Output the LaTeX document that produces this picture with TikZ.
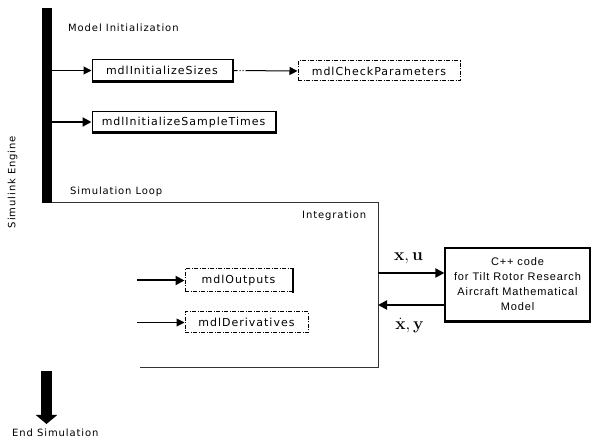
\documentclass[tikz,border=0pt]{standalone}
\usepackage[no-math]{fontspec}
\setmainfont{DejaVu Sans}[LetterSpace=9]
\newfontfamily\boxfont{DejaVu Sans}[LetterSpace=9]
\newfontfamily\cppfont{Liberation Sans}[LetterSpace=8]
\usetikzlibrary{arrows.meta}
\begin{document}
\begin{tikzpicture}[x=1pt,y=-1pt,
  fnbox/.style={draw, line width=1pt, inner sep=0pt, font=\boxfont\fontsize{11}{13}\selectfont},
  ddash/.style={dash pattern=on 4pt off 1.5pt on 1pt off 1.5pt},
  lbl/.style={inner sep=0pt, anchor=west, font=\fontsize{10}{12}\selectfont},
  thinarrow/.style={line width=1pt, -{Triangle[length=8pt,width=8pt]}},
  thickarrow/.style={line width=2pt, -{Triangle[length=9pt,width=9pt]}},
  loopline/.style={line width=1pt, draw=black!80},
  shadow/.style={line width=1.5pt},
  mathlbl/.style={inner sep=0pt, font=\fontsize{16}{16}\selectfont}]
\useasboundingbox (0,0) rectangle (592,443);

% engine bar
\node[fill=black, minimum width=10pt, minimum height=195pt, inner sep=0pt] (engine) at (47,105.5) {};
\node[inner sep=0pt, rotate=90, font=\fontsize{10}{12}\selectfont] (simeng) at (12.5,182) {Simulink Engine};

% model initialization
\node[lbl] (minit) at (68,27.5) {Model Initialization};
\node[fnbox, minimum width=140pt, minimum height=21pt] (sizes) at (162,70.5) {mdlInitializeSizes};
\node[fnbox, ddash, minimum width=162pt, minimum height=20pt] (check) at (379,71) {mdlCheckParameters};
\node[fnbox, minimum width=183pt, minimum height=20pt] (stimes) at (183.5,122) {mdlInitializeSampleTimes};
\draw[shadow] ([shift={(0.5,0)}]sizes.north east) -- ([shift={(0.5,0.5)}]sizes.south east) -- ([shift={(0,0.5)}]sizes.south west);
\draw[shadow] ([shift={(0.5,0)}]stimes.north east) -- ([shift={(0.5,0.5)}]stimes.south east) -- ([shift={(0,0.5)}]stimes.south west);

\draw[thinarrow] (sizes.west -| engine.east) -- (sizes.west);
\draw[thickarrow] (stimes.west -| engine.east) -- (stimes.west);
\draw[line width=1pt, -{Triangle[length=8pt,width=8pt]},
      dash pattern=on 5pt off 2pt on 1pt off 2pt on 1pt off 2pt on 80pt off 0pt] (sizes.east) -- (check.west);

% simulation loop
\node[lbl] (simloop) at (70,191.5) {Simulation Loop};
\coordinate (l0) at (52,203);
\coordinate (l1) at (378,203);
\coordinate (l2) at (378,368);
\coordinate (l3) at (140,368);
\draw[loopline] (l0) -- (l1) -- (l2) -- (l3);
\node[lbl] (integ) at (302,215.5) {Integration};

\node[fnbox, ddash, minimum width=107pt, minimum height=23pt] (outputs) at (238.5,280.5) {mdlOutputs};
\draw[line width=2pt] ([shift={(0.5,0)}]outputs.north east) -- ([shift={(0.5,0.5)}]outputs.south east);
\node[fnbox, ddash, minimum width=123pt, minimum height=21pt] (derivs) at (246.5,322.5) {mdlDerivatives};
\coordinate (oin) at (137,280.5);
\coordinate (din) at (137,322.5);
\draw[thickarrow] (oin) -- (outputs.west);
\draw[thinarrow] (din) -- (derivs.west);

% C++ model
\node[draw, line width=1.2pt, minimum width=145pt, minimum height=73pt, inner sep=0pt,
      align=center, font=\cppfont\fontsize{11}{15}\selectfont] (cpp) at (517.5,284.5)
  {C++ code\\for Tilt Rotor Research\\Aircraft Mathematical\\Model};
\draw[line width=1pt] ([shift={(0,1)}]cpp.south west) -- ([shift={(0,1)}]cpp.south east);
\coordinate (xu) at (378,273);
\coordinate (xy) at (378,305);
\draw[thickarrow] (xu) -- (xu -| cpp.west);
\draw[thickarrow] (xy -| cpp.west) -- (xy);
\node[mathlbl] (xulbl) at (408.5,258.5) {$\mathbf{x},\mathbf{u}$};
\node[mathlbl, anchor=base] (xylbl) at (409.5,330) {$\dot{\mathbf{x}},\mathbf{y}$};

% end simulation
\coordinate (e0) at (46.5,371);
\coordinate (e1) at (46.5,424);
\draw[line width=11pt, -{Triangle[length=9pt,width=21pt]}] (e0) -- (e1);
\node[lbl] (endsim) at (12,433) {End Simulation};
\end{tikzpicture}
\end{document}
